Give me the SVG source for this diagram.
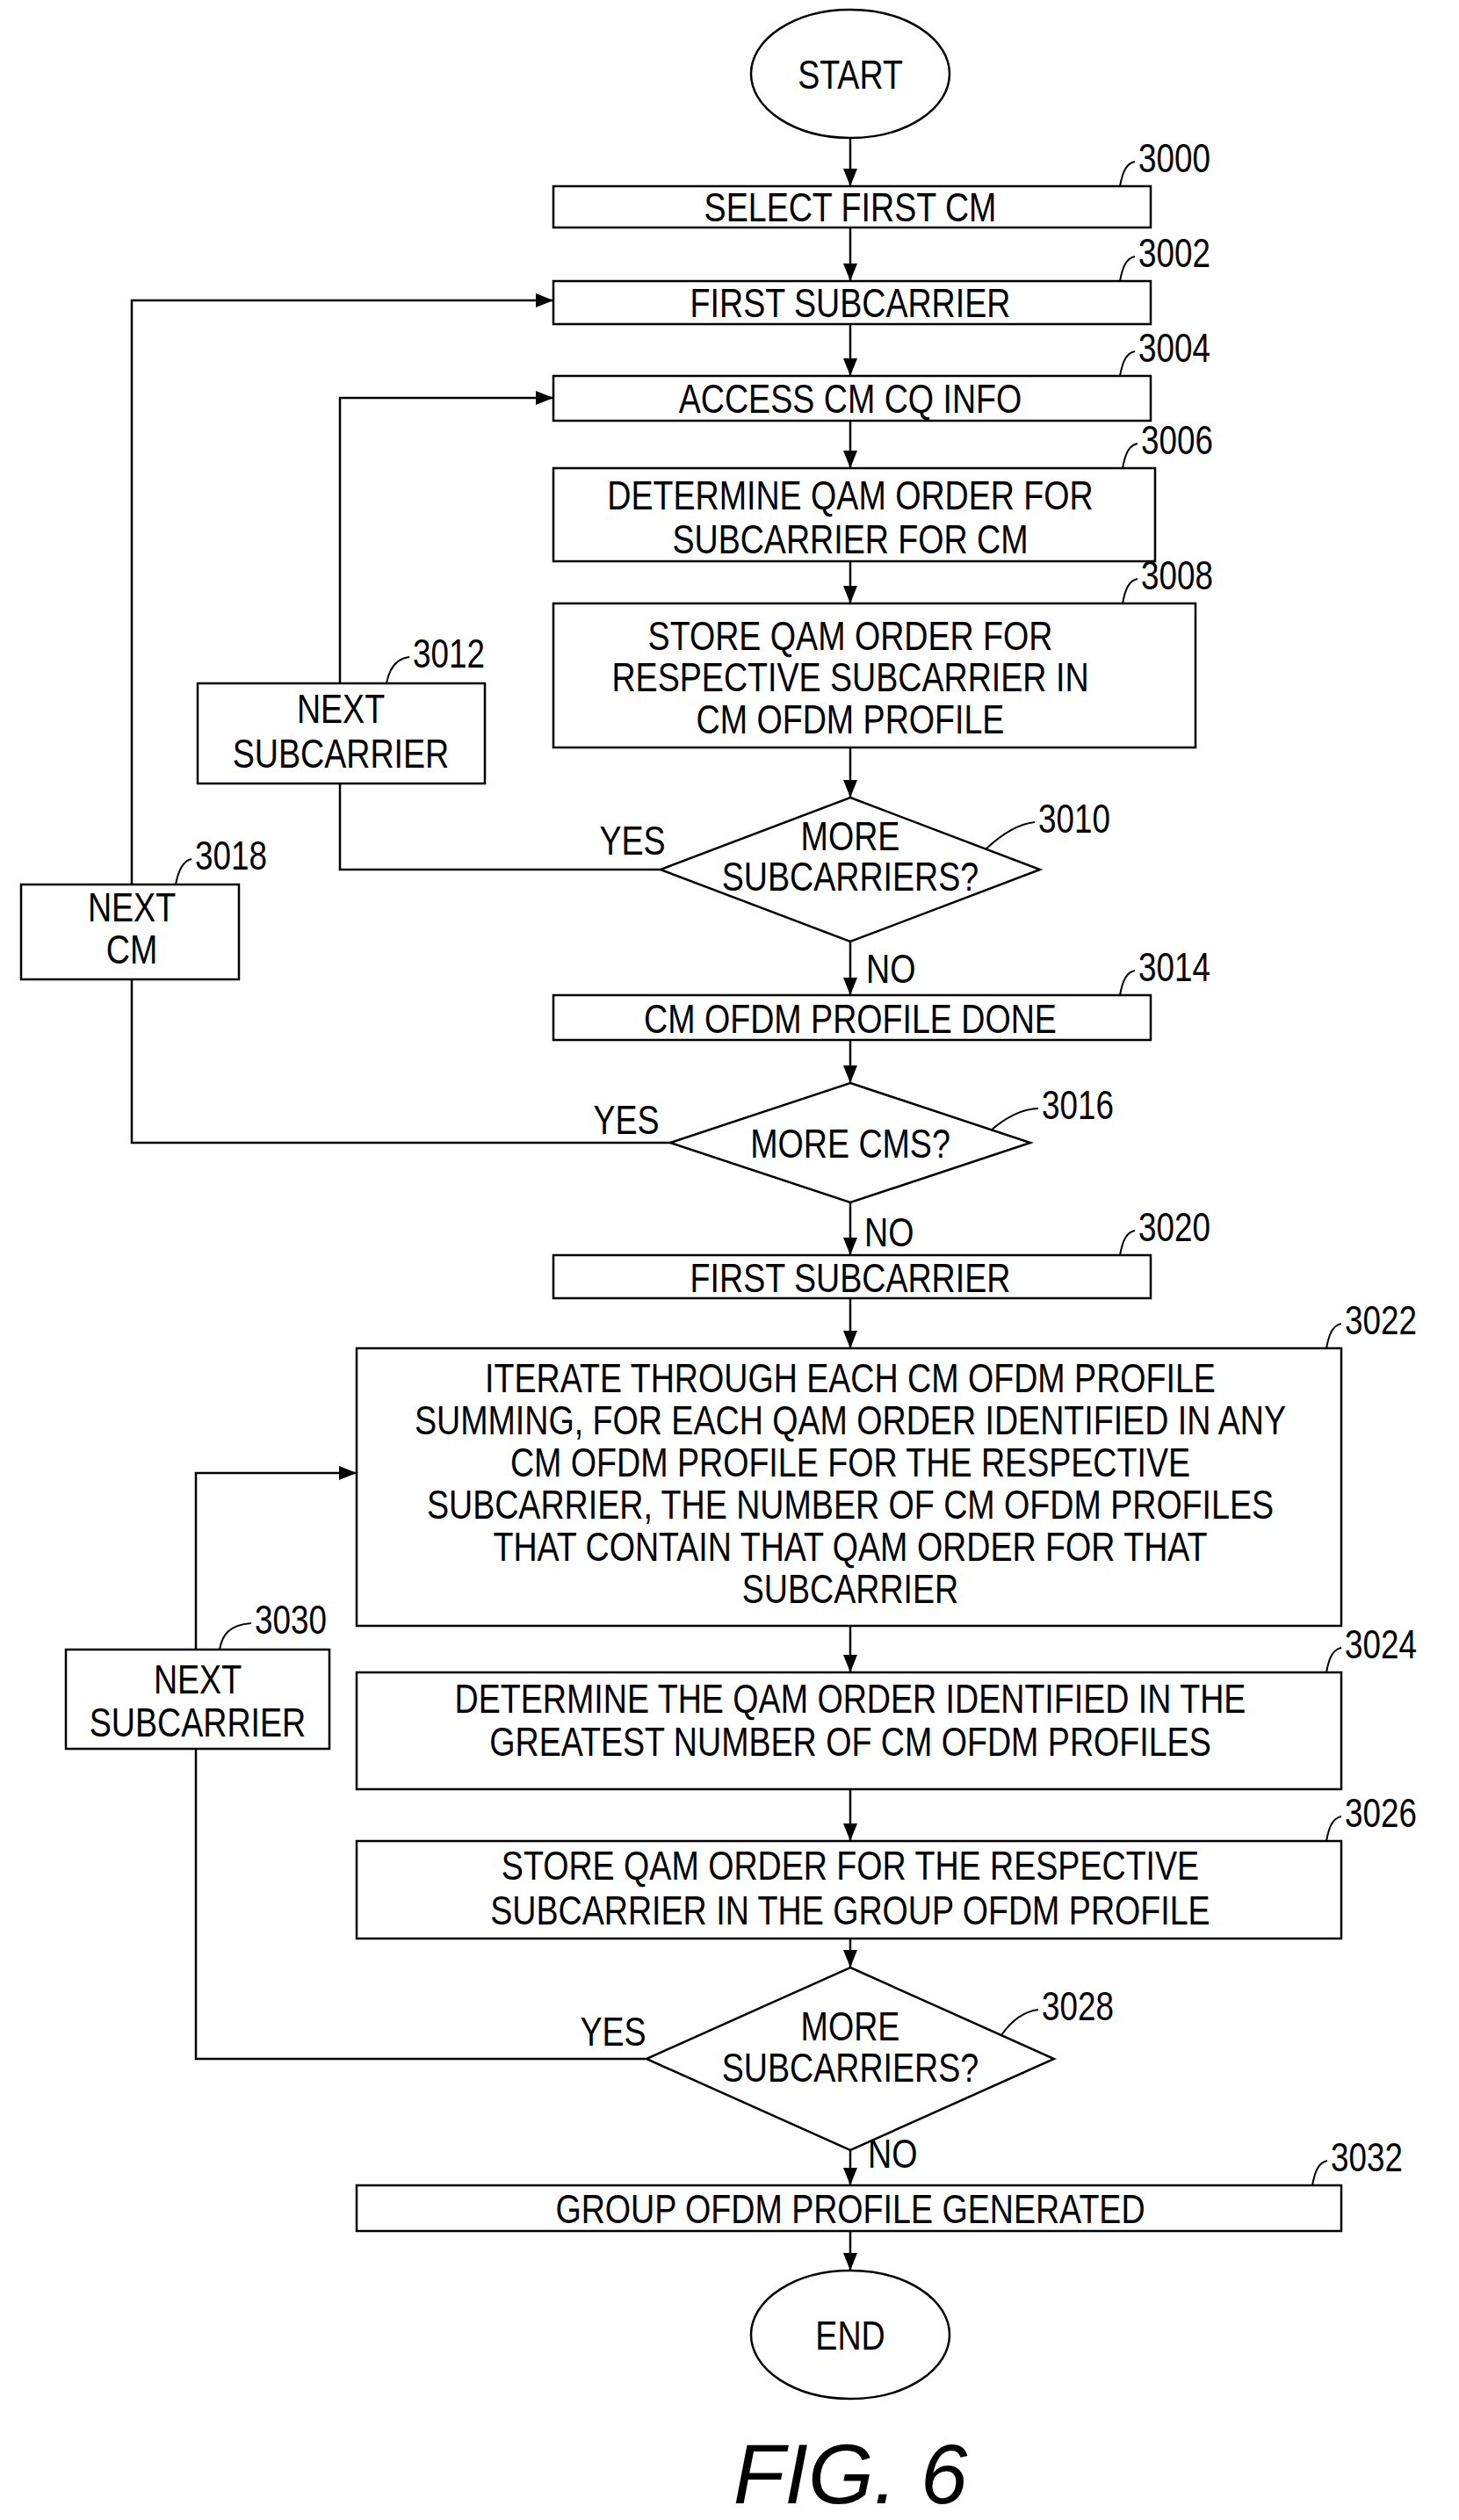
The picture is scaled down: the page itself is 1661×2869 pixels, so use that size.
<svg xmlns="http://www.w3.org/2000/svg" width="1661" height="2869" viewBox="0 0 1661 2869">
<style>
.s{fill:#fff;stroke:#000;stroke-width:2.5}
.c{fill:none;stroke:#000;stroke-width:2.5}
.l{fill:none;stroke:#000;stroke-width:2}
text{font-family:"Liberation Sans",Arial,sans-serif;font-size:47px;fill:#000}
.t{text-anchor:middle}
.n{font-size:46px}
</style>
<defs>
<marker id="a" viewBox="0 0 10 10" refX="10" refY="5" markerWidth="20" markerHeight="20" orient="auto" markerUnits="userSpaceOnUse"><path d="M0,1 L10,5 L0,9 z" fill="#000"/></marker>
</defs>
<rect width="1661" height="2869" fill="#fff"/>
<g id="connectors">
<path class="c" marker-end="url(#a)" d="M968,157V212"/>
<path class="c" marker-end="url(#a)" d="M968,259V320"/>
<path class="c" marker-end="url(#a)" d="M968,369V428"/>
<path class="c" marker-end="url(#a)" d="M968,479V533"/>
<path class="c" marker-end="url(#a)" d="M968,639V687"/>
<path class="c" marker-end="url(#a)" d="M968,851V908"/>
<path class="c" marker-end="url(#a)" d="M968,1072V1133"/>
<path class="c" marker-end="url(#a)" d="M968,1184V1233"/>
<path class="c" marker-end="url(#a)" d="M968,1369V1429"/>
<path class="c" marker-end="url(#a)" d="M968,1478V1535"/>
<path class="c" marker-end="url(#a)" d="M968,1851V1904"/>
<path class="c" marker-end="url(#a)" d="M968,2037V2096"/>
<path class="c" marker-end="url(#a)" d="M968,2207V2240"/>
<path class="c" marker-end="url(#a)" d="M968,2448V2488"/>
<path class="c" marker-end="url(#a)" d="M968,2540V2585"/>
<path class="c" d="M752,990H387V892"/>
<path class="c" marker-end="url(#a)" d="M387,778V453H630"/>
<path class="c" d="M763,1301H150V1115"/>
<path class="c" marker-end="url(#a)" d="M150,1007V342H630"/>
<path class="c" d="M736,2344H223V1991"/>
<path class="c" marker-end="url(#a)" d="M223,1878V1677H406"/>
<text class="t" transform="translate(720,973) scale(0.8,1)">YES</text>
<text class="t" transform="translate(713,1291) scale(0.8,1)">YES</text>
<text class="t" transform="translate(698,2329) scale(0.8,1)">YES</text>
<text transform="translate(986,1119) scale(0.8,1)">NO</text>
<text transform="translate(984,1419) scale(0.8,1)">NO</text>
<text transform="translate(988,2468) scale(0.8,1)">NO</text>
</g>
<g id="start"><ellipse class="s" cx="968" cy="84" rx="113" ry="73"/><text class="t" transform="translate(968,101) scale(0.8,1)">START</text></g>
<g id="n3000"><rect class="s" x="630" y="212" width="680" height="47"/><text class="t" transform="translate(968,252) scale(0.8,1)">SELECT FIRST CM</text>
<path class="l" d="M1275,212 C1278,196 1282,186 1292,184"/><text class="n" transform="translate(1296,196) scale(0.8,1)">3000</text></g>
<g id="n3002"><rect class="s" x="630" y="320" width="680" height="49"/><text class="t" transform="translate(968,361) scale(0.8,1)">FIRST SUBCARRIER</text>
<path class="l" d="M1275,320 C1278,304 1282,294 1292,292"/><text class="n" transform="translate(1296,304) scale(0.8,1)">3002</text></g>
<g id="n3004"><rect class="s" x="630" y="428" width="680" height="51"/><text class="t" transform="translate(968,470) scale(0.8,1)">ACCESS CM CQ INFO</text>
<path class="l" d="M1275,428 C1278,412 1282,402 1292,400"/><text class="n" transform="translate(1296,412) scale(0.8,1)">3004</text></g>
<g id="n3006"><rect class="s" x="630" y="533" width="685" height="106"/><text class="t" transform="translate(968,580) scale(0.8,1)"><tspan x="0">DETERMINE QAM ORDER FOR</tspan><tspan x="0" dy="50">SUBCARRIER FOR CM</tspan></text>
<path class="l" d="M1278,533 C1281,517 1285,507 1295,505"/><text class="n" transform="translate(1299,517) scale(0.8,1)">3006</text></g>
<g id="n3008"><rect class="s" x="630" y="687" width="731" height="164"/><text class="t" transform="translate(968,740) scale(0.8,1)"><tspan x="0">STORE QAM ORDER FOR</tspan><tspan x="0" dy="47">RESPECTIVE SUBCARRIER IN</tspan><tspan x="0" dy="48">CM OFDM PROFILE</tspan></text>
<path class="l" d="M1278,687 C1281,671 1285,661 1295,659"/><text class="n" transform="translate(1299,671) scale(0.8,1)">3008</text></g>
<g id="n3010"><path class="s" d="M968,908 L1184,990 L968,1072 L752,990 Z"/><text class="t" transform="translate(968,968) scale(0.8,1)"><tspan x="0">MORE</tspan><tspan x="0" dy="46">SUBCARRIERS?</tspan></text>
<path class="l" d="M1122,967 C1140,950 1160,938 1178,936"/><text class="n" transform="translate(1182,948) scale(0.8,1)">3010</text></g>
<g id="n3012"><rect class="s" x="225" y="778" width="327" height="114"/><text class="t" transform="translate(388,823) scale(0.8,1)"><tspan x="0">NEXT</tspan><tspan x="0" dy="51">SUBCARRIER</tspan></text>
<path class="l" d="M440,778 C443,762 450,750 466,748"/><text class="n" transform="translate(470,760) scale(0.8,1)">3012</text></g>
<g id="n3018"><rect class="s" x="24" y="1007" width="248" height="108"/><text class="t" transform="translate(150,1049) scale(0.8,1)"><tspan x="0">NEXT</tspan><tspan x="0" dy="48">CM</tspan></text>
<path class="l" d="M200,1007 C203,991 208,980 218,978"/><text class="n" transform="translate(222,990) scale(0.8,1)">3018</text></g>
<g id="n3014"><rect class="s" x="630" y="1133" width="680" height="51"/><text class="t" transform="translate(968,1176) scale(0.8,1)">CM OFDM PROFILE DONE</text>
<path class="l" d="M1275,1133 C1278,1117 1282,1107 1292,1105"/><text class="n" transform="translate(1296,1117) scale(0.8,1)">3014</text></g>
<g id="n3016"><path class="s" d="M968,1233 L1173,1301 L968,1369 L763,1301 Z"/><text class="t" transform="translate(968,1318) scale(0.8,1)">MORE CMS?</text>
<path class="l" d="M1128,1287 C1145,1272 1165,1262 1182,1262"/><text class="n" transform="translate(1186,1274) scale(0.8,1)">3016</text></g>
<g id="n3020"><rect class="s" x="630" y="1429" width="680" height="49"/><text class="t" transform="translate(968,1471) scale(0.8,1)">FIRST SUBCARRIER</text>
<path class="l" d="M1275,1429 C1278,1413 1282,1403 1292,1401"/><text class="n" transform="translate(1296,1413) scale(0.8,1)">3020</text></g>
<g id="n3022"><rect class="s" x="406" y="1535" width="1121" height="316"/><text class="t" transform="translate(968,1585) scale(0.8,1)"><tspan x="0">ITERATE THROUGH EACH CM OFDM PROFILE</tspan><tspan x="0" dy="48">SUMMING, FOR EACH QAM ORDER IDENTIFIED IN ANY</tspan><tspan x="0" dy="48">CM OFDM PROFILE FOR THE RESPECTIVE</tspan><tspan x="0" dy="48">SUBCARRIER, THE NUMBER OF CM OFDM PROFILES</tspan><tspan x="0" dy="48">THAT CONTAIN THAT QAM ORDER FOR THAT</tspan><tspan x="0" dy="48">SUBCARRIER</tspan></text>
<path class="l" d="M1510,1535 C1513,1519 1517,1509 1527,1507"/><text class="n" transform="translate(1531,1519) scale(0.8,1)">3022</text></g>
<g id="n3024"><rect class="s" x="406" y="1904" width="1121" height="133"/><text class="t" transform="translate(968,1950) scale(0.8,1)"><tspan x="0">DETERMINE THE QAM ORDER IDENTIFIED IN THE</tspan><tspan x="0" dy="49">GREATEST NUMBER OF CM OFDM PROFILES</tspan></text>
<path class="l" d="M1510,1904 C1513,1888 1517,1878 1527,1876"/><text class="n" transform="translate(1531,1888) scale(0.8,1)">3024</text></g>
<g id="n3026"><rect class="s" x="406" y="2096" width="1121" height="111"/><text class="t" transform="translate(968,2140) scale(0.8,1)"><tspan x="0">STORE QAM ORDER FOR THE RESPECTIVE</tspan><tspan x="0" dy="51">SUBCARRIER IN THE GROUP OFDM PROFILE</tspan></text>
<path class="l" d="M1510,2096 C1513,2080 1517,2070 1527,2068"/><text class="n" transform="translate(1531,2080) scale(0.8,1)">3026</text></g>
<g id="n3028"><path class="s" d="M968,2240 L1200,2344 L968,2448 L736,2344 Z"/><text class="t" transform="translate(968,2323) scale(0.8,1)"><tspan x="0">MORE</tspan><tspan x="0" dy="47">SUBCARRIERS?</tspan></text>
<path class="l" d="M1140,2317 C1152,2300 1165,2290 1182,2288"/><text class="n" transform="translate(1186,2300) scale(0.8,1)">3028</text></g>
<g id="n3030"><rect class="s" x="75" y="1878" width="300" height="113"/><text class="t" transform="translate(225,1928) scale(0.8,1)"><tspan x="0">NEXT</tspan><tspan x="0" dy="49">SUBCARRIER</tspan></text>
<path class="l" d="M250,1878 C253,1862 260,1850 286,1848"/><text class="n" transform="translate(290,1860) scale(0.8,1)">3030</text></g>
<g id="n3032"><rect class="s" x="406" y="2488" width="1121" height="52"/><text class="t" transform="translate(968,2531) scale(0.8,1)">GROUP OFDM PROFILE GENERATED</text>
<path class="l" d="M1494,2488 C1497,2472 1501,2462 1511,2460"/><text class="n" transform="translate(1515,2472) scale(0.8,1)">3032</text></g>
<g id="end"><ellipse class="s" cx="968" cy="2658" rx="113" ry="73"/><text class="t" transform="translate(968,2675) scale(0.8,1)">END</text></g>
<text class="t" x="968" y="2850" style="font-size:96px;font-style:italic">FIG. 6</text>
</svg>
